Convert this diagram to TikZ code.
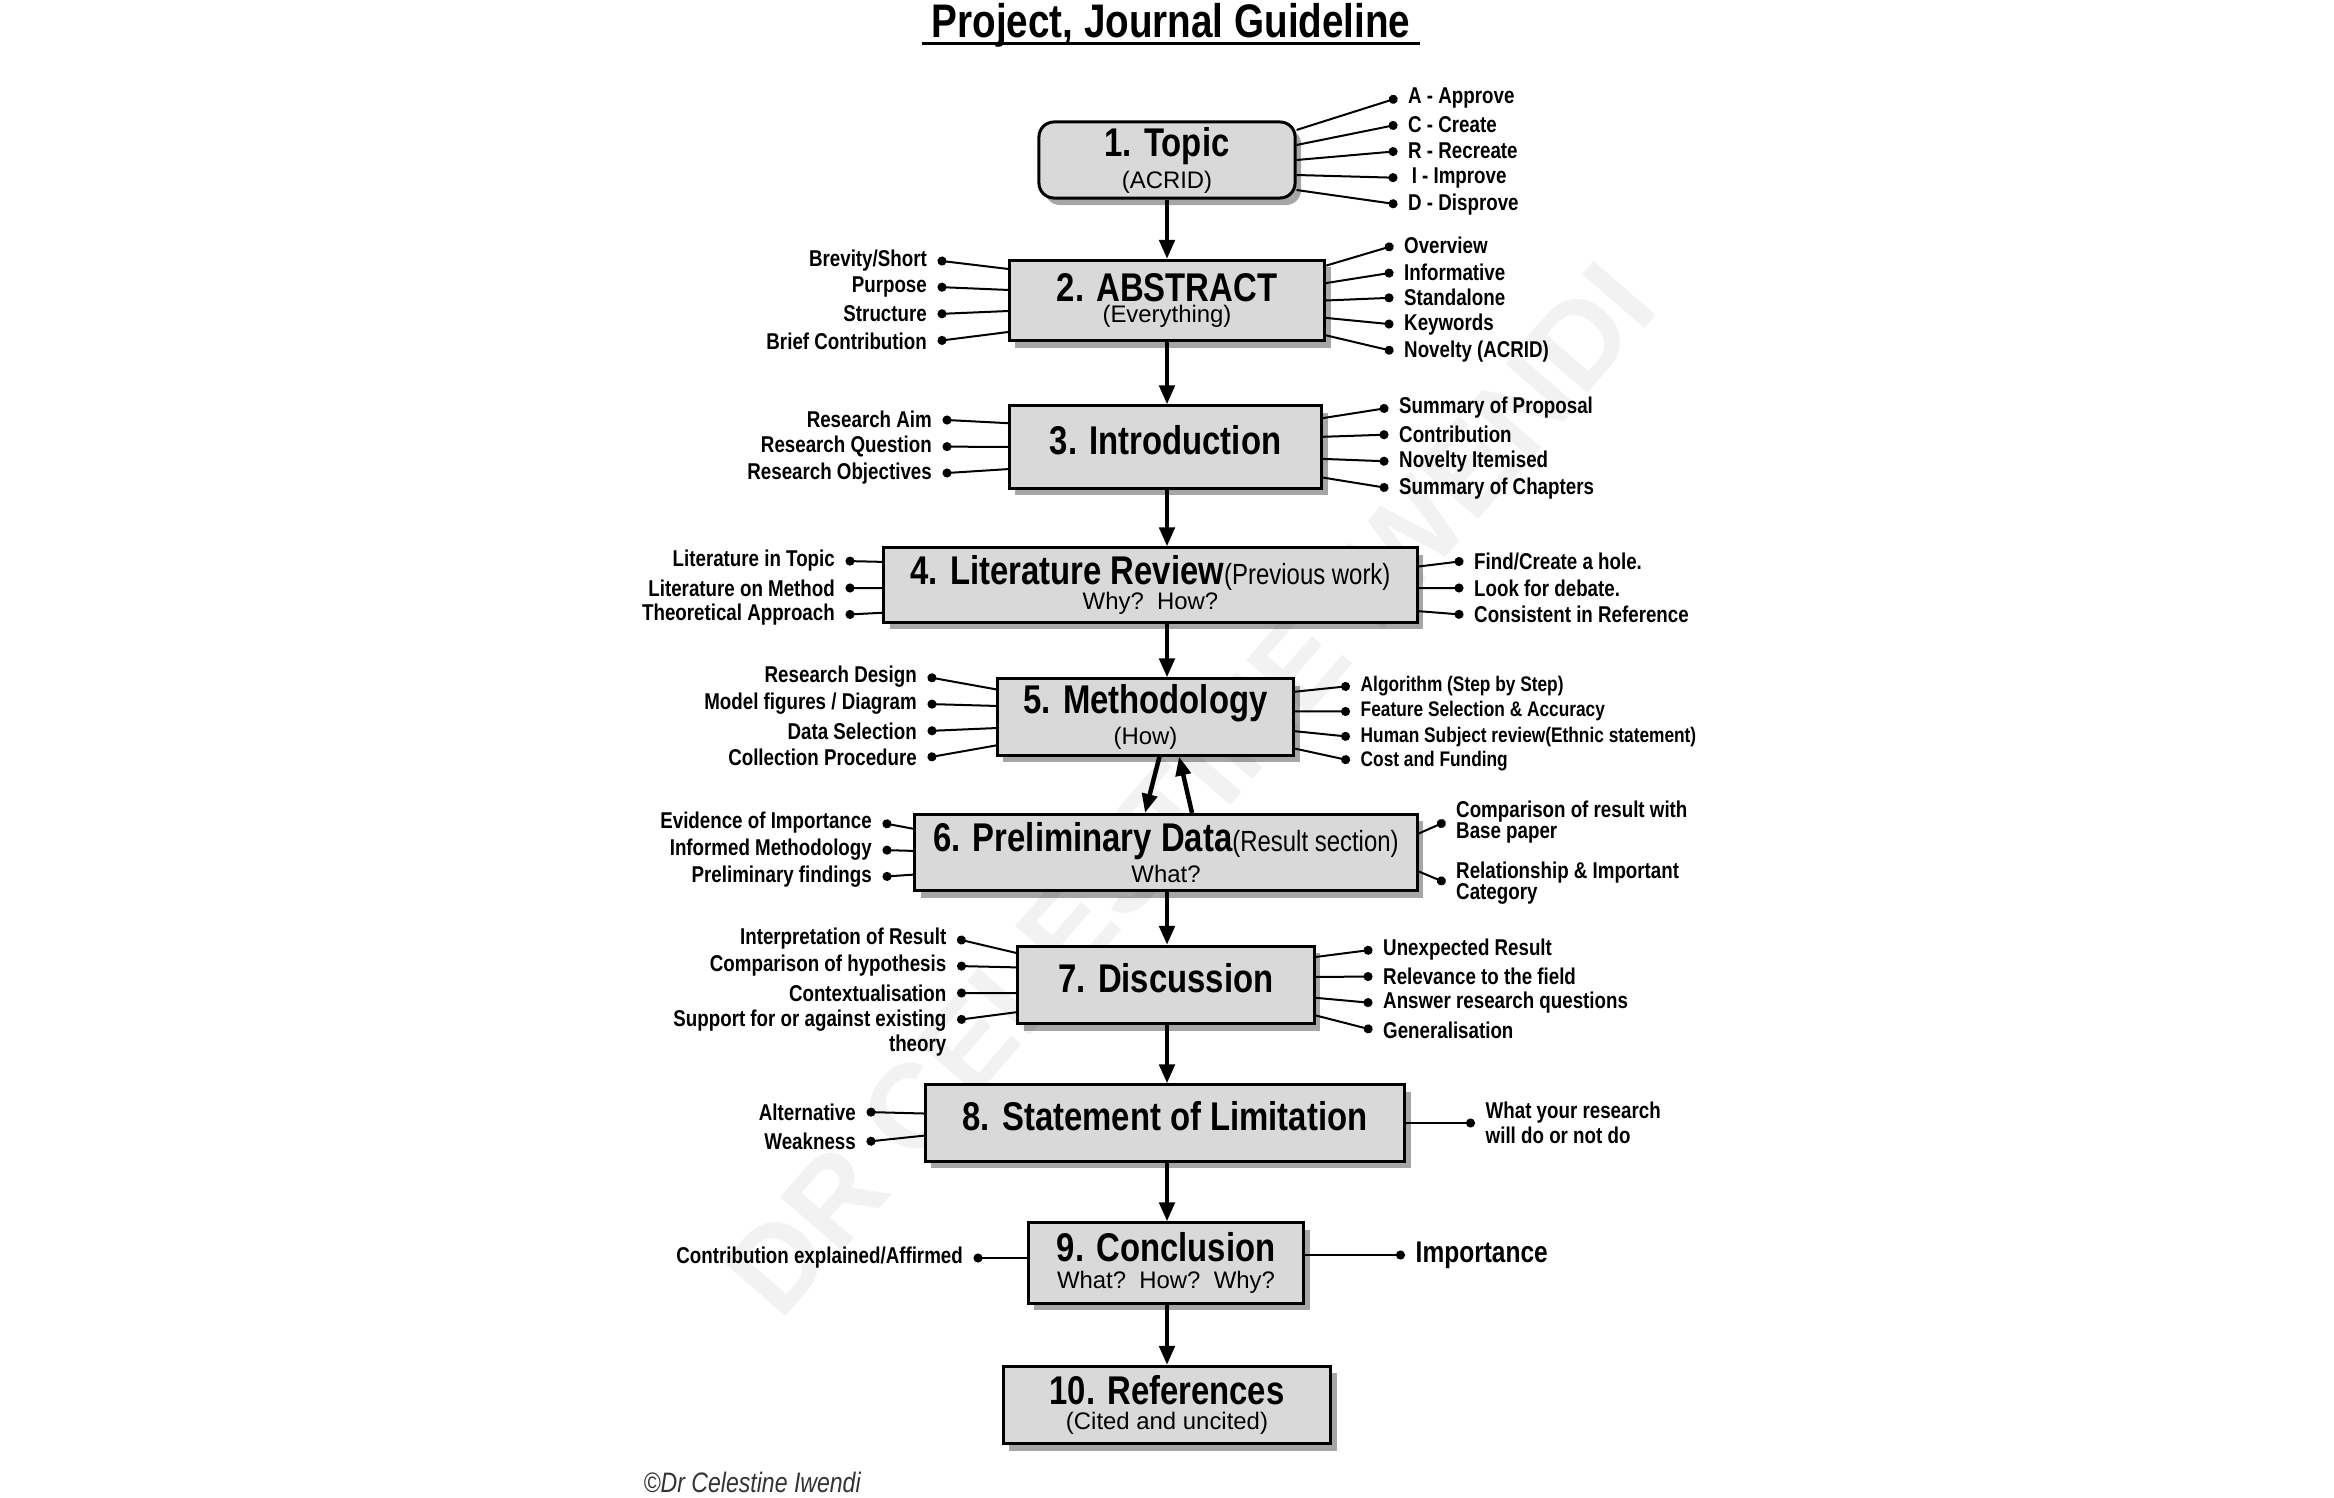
\documentclass[tikz,border=0pt]{standalone}
\usepackage{fontspec}
\setmainfont{Liberation Sans}[FakeStretch=0.82]
\newfontfamily\plainfont{Liberation Sans}
\usetikzlibrary{arrows.meta, positioning, shadows, calc}
\definecolor{boxgray}{gray}{0.85}
\definecolor{markgray}{gray}{0.95}
\newcommand{\ttl}{\fontsize{11.4}{7}\selectfont\bfseries}
\newcommand{\subt}{\plainfont\mdseries\fontsize{6.8}{7}\selectfont}
\newcommand{\side}{\mdseries\fontsize{8.3}{7}\selectfont}
\newcommand{\up}[1]{\raisebox{2pt}[\height][\depth]{#1}}

\begin{document}
\begin{tikzpicture}[
  x=0.01cm, y=-0.01cm,
  box/.style={draw, line width=0.03cm, fill=boxgray, align=center, inner sep=0pt, font=\ttl,
    drop shadow={shadow xshift=0.06cm, shadow yshift=-0.07cm, fill=black, opacity=0.35}},
  item/.style={font=\fontsize{6.5}{6}\selectfont\bfseries, inner xsep=0.1cm, inner ysep=0pt},
  lft/.style={item, anchor=east, align=right},
  rgt/.style={item, anchor=west, align=left},
  small/.style={font=\fontsize{6}{6}\selectfont\bfseries},
  pin/.style={line width=0.02cm, {Circle[length=0.09cm]}-},
  flow/.style={line width=0.045cm, -{Triangle[length=0.19cm, width=0.15cm]}}
]
\path[fill=white, use as bounding box] (0,0) rectangle (2334,1498);

% watermark
\node[rotate=49, text=markgray, font=\plainfont\fontsize{34}{34}\selectfont\bfseries] (mark) at (1190,789) {DR CELESTINE IWENDI};

% title
\node[anchor=base, inner xsep=0.09cm, font=\fontsize{13.4}{14}\selectfont\bfseries] (title) at (1171,38) {Project, Journal Guideline};
\draw[line width=0.03cm] ([yshift=-0.055cm]title.base west) -- ([yshift=-0.055cm]title.base east);

% main steps
\node[box, rounded corners=0.15cm, minimum width=2.56cm, minimum height=0.76cm] (topic) at (1167,160) {1. Topic\\[0.8pt]{\subt (ACRID)}};
\node[box, minimum width=3.15cm, minimum height=0.80cm] (abs) at (1167,300.5) {2. ABSTRACT\\[-1.2pt]{\subt (Everything)}};
\node[box, minimum width=3.12cm, minimum height=0.82cm] (intro) at (1165.5,447) {\up{3. Introduction}};
\node[box, minimum width=5.33cm, minimum height=0.74cm] (lit) at (1150.5,585) {4. Literature Review{\side(Previous work)}\\{\subt Why?\ \ How?}};
\node[box, minimum width=2.96cm, minimum height=0.76cm] (meth) at (1145.5,717) {5. Methodology\\[0.3pt]{\subt (How)}};
\node[box, minimum width=5.02cm, minimum height=0.76cm] (prel) at (1166,852.5) {6. Preliminary Data{\side(Result section)}\\[0.3pt]{\subt What?}};
\node[box, minimum width=2.96cm, minimum height=0.77cm] (disc) at (1166,985) {\up{7. Discussion}};
\node[box, minimum width=4.79cm, minimum height=0.76cm] (lim) at (1165,1123) {\up{8. Statement of Limitation}};
\node[box, minimum width=2.75cm, minimum height=0.80cm] (conc) at (1166,1263) {9. Conclusion\\[0.8pt]{\subt What?\ \ How?\ \ Why?}};
\node[box, minimum width=3.27cm, minimum height=0.77cm] (refs) at (1167,1405) {10. References\\{\subt (Cited and uncited)}};

% 1. topic
\node[rgt] (ta) at (1397.5,98) {A - Approve};
\node[rgt] (tc) at (1397.5,124.6) {C - Create};
\node[rgt] (tr) at (1397.5,151.2) {R - Recreate};
\node[rgt] (ti) at (1397.5,177.8) {\hspace{1pt}I - Improve};
\node[rgt] (td) at (1397.5,204.4) {D - Disprove};

% 2. abstract
\node[lft] (brev) at (937.5,260.5) {Brevity/Short};
\node[lft] (purp) at (937.5,287) {Purpose};
\node[lft] (struc) at (937.5,314) {Structure};
\node[lft] (brief) at (937.5,341) {Brief Contribution};
\node[rgt] (over) at (1393.5,245.6) {Overview};
\node[rgt] (inform) at (1393.5,272.4) {Informative};
\node[rgt] (stand) at (1393.5,297.7) {Standalone};
\node[rgt] (keyw) at (1393.5,324.5) {Keywords};
\node[rgt] (novel) at (1393.5,351.3) {Novelty (ACRID)};

% 3. introduction
\node[lft] (aim) at (942.5,419.8) {Research Aim};
\node[lft] (rq) at (942.5,446.6) {Research Question};
\node[lft] (robj) at (942.5,473.3) {Research Objectives};
\node[rgt] (sprop) at (1388.5,407.8) {Summary of Proposal};
\node[rgt] (contr) at (1388.5,434.6) {Contribution};
\node[rgt] (novit) at (1388.5,461.4) {Novelty Itemised};
\node[rgt] (schap) at (1388.5,488.2) {Summary of Chapters};

% 4. literature review
\node[lft] (ltop) at (845.5,561) {Literature in Topic};
\node[lft] (lmeth) at (845.5,588) {Literature on Method};
\node[lft] (theo) at (845.5,614.7) {Theoretical Approach};
\node[rgt] (hole) at (1463.5,561) {Find/Create a hole.};
\node[rgt] (debate) at (1463.5,588) {Look for debate.};
\node[rgt] (consist) at (1463.5,614.7) {Consistent in Reference};

% 5. methodology
\node[lft] (rdes) at (927.5,677) {Research Design};
\node[lft] (model) at (927.5,704) {Model figures / Diagram};
\node[lft] (dsel) at (927.5,731) {Data Selection};
\node[lft] (coll) at (927.5,757.6) {Collection Procedure};
\node[rgt, small] (algo) at (1350,686) {Algorithm (Step by Step)};
\node[rgt, small] (feat) at (1350,711.5) {Feature Selection \& Accuracy};
\node[rgt, small] (human) at (1350,736.8) {Human Subject review(Ethnic statement)};
\node[rgt, small] (cost) at (1350,760.6) {Cost and Funding};

% 6. preliminary data
\node[lft] (evid) at (882.5,823) {Evidence of Importance};
\node[lft] (infm) at (882.5,850) {Informed Methodology};
\node[lft] (pfind) at (882.5,876.7) {Preliminary findings};
\node[rgt] (comp) at (1445.5,821.7) {Comparison of result with\\Base paper};
\node[rgt] (rel) at (1445.5,882.7) {Relationship \& Important\\Category};

% 7. discussion
\node[lft] (interp) at (957,939) {Interpretation of Result};
\node[lft] (hypo) at (957,966) {Comparison of hypothesis};
\node[lft] (ctx) at (957,993) {Contextualisation};
\node[lft, anchor=north east] (supp) at (957,1009) {Support for or against existing\\theory};
\node[rgt] (unexp) at (1372.5,949.7) {Unexpected Result};
\node[rgt] (relev) at (1372.5,976.5) {Relevance to the field};
\node[rgt] (answ) at (1372.5,1003) {Answer research questions};
\node[rgt] (gen) at (1372.5,1030) {Generalisation};

% 8. limitation
\node[lft] (alt) at (866.5,1112) {Alternative};
\node[lft] (weak) at (866.5,1141.7) {Weakness};
\node[rgt] (will) at (1475,1123) {What your research\\will do or not do};

% 9. conclusion
\node[lft] (explained) at (973.5,1258) {Contribution explained/Affirmed};
\node[rgt, font=\fontsize{8.5}{9}\selectfont\bfseries] (imp) at (1405,1255) {Importance};

\node[anchor=west, inner sep=0pt, text=black!80, font=\fontsize{8}{8}\selectfont\itshape] (copy) at (643,1482) {©Dr Celestine Iwendi};

% side pins
\foreach \n/\f in {ta/.12, tc/.31, tr/.5, ti/.69, td/.88}
  \draw[pin] (\n.west) -- ($(topic.north east)!\f!(topic.south east)$);
\foreach \n/\f in {brev/.12, purp/.373, struc/.627, brief/.88}
  \draw[pin] (\n.east) -- ($(abs.north west)!\f!(abs.south west)$);
\foreach \n/\f in {over/.08, inform/.29, stand/.5, keyw/.71, novel/.92}
  \draw[pin] (\n.west) -- ($(abs.north east)!\f!(abs.south east)$);
\foreach \n/\f in {aim/.22, rq/.5, robj/.76}
  \draw[pin] (\n.east) -- ($(intro.north west)!\f!(intro.south west)$);
\foreach \n/\f in {sprop/.16, contr/.38, novit/.64, schap/.86}
  \draw[pin] (\n.west) -- ($(intro.north east)!\f!(intro.south east)$);
\foreach \n/\f in {ltop/.2, lmeth/.54, theo/.86}
  \draw[pin] (\n.east) -- ($(lit.north west)!\f!(lit.south west)$);
\foreach \n/\f in {hole/.26, debate/.54, consist/.84}
  \draw[pin] (\n.west) -- ($(lit.north east)!\f!(lit.south east)$);
\foreach \n/\f in {rdes/.15, model/.36, dsel/.64, coll/.86}
  \draw[pin] (\n.east) -- ($(meth.north west)!\f!(meth.south west)$);
\foreach \n/\f in {algo/.18, feat/.43, human/.68, cost/.9}
  \draw[pin] (\n.west) -- ($(meth.north east)!\f!(meth.south east)$);
\foreach \n/\f in {evid/.2, infm/.48, pfind/.78}
  \draw[pin] (\n.east) -- ($(prel.north west)!\f!(prel.south west)$);
\foreach \n/\f in {comp/.26, rel/.74}
  \draw[pin] (\n.west) -- ($(prel.north east)!\f!(prel.south east)$);
\foreach \n/\f in {interp/.1, hypo/.28, ctx/.6}
  \draw[pin] (\n.east) -- ($(disc.north west)!\f!(disc.south west)$);
\draw[pin] ([yshift=-0.11cm]supp.north east) -- ($(disc.north west)!.84!(disc.south west)$);
\foreach \n/\f in {unexp/.15, relev/.4, answ/.66, gen/.88}
  \draw[pin] (\n.west) -- ($(disc.north east)!\f!(disc.south east)$);
\foreach \n/\f in {alt/.38, weak/.66}
  \draw[pin] (\n.east) -- ($(lim.north west)!\f!(lim.south west)$);
\draw[pin] (will.west) -- (will.west -| lim.east);
\draw[pin] (explained.east) -- (explained.east -| conc.west);
\draw[pin] (imp.west) -- (imp.west -| conc.east);

% main flow
\coordinate (spine) at (1167,0);
\foreach \a/\b in {topic/abs, abs/intro, intro/lit, lit/meth, prel/disc, disc/lim, lim/conc, conc/refs}
  \draw[flow] (\a.south -| spine) -- (\b.north -| spine);
\draw[flow] ([xshift=0.14cm]meth.south) -- ([xshift=-0.21cm]prel.north);
\draw[flow] ([xshift=0.26cm]prel.north) -- ([xshift=0.335cm]meth.south);
\end{tikzpicture}
\end{document}
